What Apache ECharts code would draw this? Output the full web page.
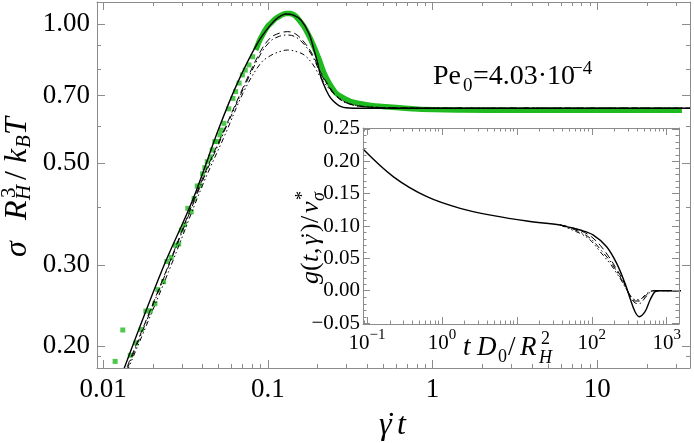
<!DOCTYPE html>
<html lang="en">
<head>
<meta charset="UTF-8">
<title>Stress overshoot, Pe0 = 4.03e-4</title>
<script src="https://cdn.jsdelivr.net/npm/echarts@6.0.0/dist/echarts.min.js"></script>
<style>
  html, body { margin: 0; padding: 0; background: #fff; }
  #main { width: 694px; height: 443px; }
</style>
</head>
<body>
<div id="main"></div>
<script type="text/javascript">
// ---- main plot: stress vs strain (log-log) ----
const solidX = [0.0133, 0.0228, 0.035, 0.0505, 0.0653, 0.0865, 0.104, 0.116, 0.129, 0.143, 0.159, 0.1776, 0.191, 0.201, 0.210, 0.226, 0.242, 0.279, 0.33, 0.4, 1, 10, 37];
const solidY = [0.177, 0.292, 0.415, 0.594, 0.744, 0.909, 0.997, 1.035, 1.053, 1.047, 1.022, 0.956, 0.879, 0.823, 0.769, 0.720, 0.690, 0.662, 0.657, 0.657, 0.657, 0.657, 0.657];

// the three broken curves share x samples
const brokenX = [0.014, 0.025, 0.04, 0.055, 0.0716, 0.0906, 0.104, 0.118, 0.132, 0.148, 0.166, 0.187, 0.21, 0.235, 0.26, 0.3, 0.4, 1, 37];
const dashedY = [0.180, 0.300, 0.460, 0.595, 0.735, 0.875, 0.935, 0.957, 0.964, 0.952, 0.915, 0.860, 0.785, 0.735, 0.700, 0.675, 0.661, 0.657, 0.657];
const dotDashY = [0.178, 0.298, 0.455, 0.590, 0.728, 0.862, 0.920, 0.942, 0.948, 0.938, 0.905, 0.852, 0.780, 0.730, 0.698, 0.674, 0.661, 0.657, 0.657];
const dotDotY = [0.176, 0.290, 0.445, 0.575, 0.715, 0.823, 0.855, 0.872, 0.879, 0.873, 0.858, 0.820, 0.765, 0.725, 0.700, 0.676, 0.662, 0.657, 0.657];

// simulation points (green): sparse squares at early strain, dense band afterwards
const greenX = [0.01184, 0.01318, 0.01463, 0.0158, 0.01706, 0.0182, 0.01937, 0.02066, 0.0215, 0.0233, 0.0244, 0.0259, 0.0275, 0.0288, 0.0299, 0.0312, 0.0327, 0.0343, 0.0357, 0.0373, 0.0387, 0.0402, 0.0415, 0.0429, 0.0449, 0.046, 0.0477, 0.0493, 0.0512, 0.0522, 0.0542, 0.058, 0.0615, 0.0638, 0.067, 0.0701, 0.073, 0.0769, 0.081];
const greenY = [0.185, 0.2165, 0.1907, 0.203, 0.217, 0.238, 0.2384, 0.247, 0.265, 0.2757, 0.305, 0.3114, 0.331, 0.333, 0.357, 0.3666, 0.398, 0.391, 0.418, 0.445, 0.446, 0.473, 0.488, 0.5027, 0.515, 0.533, 0.556, 0.556, 0.575, 0.589, 0.609, 0.655, 0.69, 0.714, 0.745, 0.776, 0.795, 0.816, 0.85];
const bandX = [0.0845, 0.0906, 0.0995, 0.106, 0.112, 0.12, 0.129, 0.137, 0.145, 0.152, 0.166, 0.187, 0.2056, 0.220, 0.2365, 0.260, 0.279, 0.321, 0.405, 0.512, 0.818, 1.5, 3, 6, 12, 20, 32.7];
const bandY = [0.879, 0.932, 0.988, 1.01, 1.03, 1.045, 1.056, 1.055, 1.047, 1.03, 0.988, 0.909, 0.836, 0.782, 0.744, 0.708, 0.696, 0.679, 0.668, 0.662, 0.654, 0.651, 0.650, 0.650, 0.650, 0.650, 0.650];

const mainXMajor = [0.01, 0.1, 1, 10];
const mainXLabels = ['0.01', '0.1', '1', '10'];
const mainXMinor = [0.02, 0.03, 0.04, 0.05, 0.06, 0.07, 0.08, 0.09, 0.2, 0.3, 0.4, 0.5, 0.6, 0.7, 0.8, 0.9, 2, 3, 4, 5, 6, 7, 8, 9, 20, 30];
const mainYMajor = [0.2, 0.3, 0.5, 0.7, 1.0];
const mainYMinor = [0.19, 0.4, 0.6, 0.8, 0.9];

// ---- inset: g(t, gamma dot) vs t ----
const insetX = [0.0885, 0.226, 0.631, 1.754, 4.88, 13.6, 37.8, 46.4, 69.9, 105, 158, 215, 278, 324, 378, 431, 514, 600, 699, 815, 1700];
const insetY = [0.219, 0.176, 0.1453, 0.1273, 0.116, 0.1077, 0.1016, 0.099, 0.0938, 0.086, 0.068, 0.0423, 0.0114, -0.0118, -0.0325, -0.0402, -0.0325, -0.0144, -0.0015, 0, 0];
const insetBrokenX = [37.8, 60, 80, 100, 130, 175, 215, 251, 290, 330, 380, 430, 500, 580, 680, 1700];
const insetDashedY = [0.1016, 0.096, 0.090, 0.083, 0.070, 0.050, 0.033, 0.020, 0.004, -0.009, -0.016, -0.016, -0.010, -0.003, 0, 0];
const insetDotDashY = [0.1016, 0.094, 0.087, 0.079, 0.064, 0.046, 0.030, 0.017, 0.003, -0.010, -0.019, -0.020, -0.013, -0.004, 0, 0];
const insetDotDotY = [0.1016, 0.092, 0.085, 0.076, 0.060, 0.042, 0.027, 0.015, 0.002, -0.008, -0.014, -0.014, -0.008, -0.002, 0, 0];

const insetXMajor = [0.1, 1, 10, 100, 1000];
const insetXLabels = [0.1, 1, 100, 1000];   // 10^1 left out, the axis title sits there
const insetYMajor = [-0.05, 0, 0.05, 0.10, 0.15, 0.20, 0.25];
const insetXMinor = [0.09];
[0.1, 1, 10, 100].forEach(d => { for (let k = 2; k <= 9; k++) insetXMinor.push(+(d * k).toPrecision(3)); });
const insetYMinor = [];
for (let k = -5; k <= 25; k++) if (k % 5 !== 0) insetYMinor.push(k / 100);

const GREEN = '#1fba1f';
const GRAY = '#8c8c8c';
const SERIF = '"Liberation Serif", "Times New Roman", serif';

const pairs = (xs, ys) => xs.map((x, i) => [x, ys[i]]);

// main range and inset range (taken from the frame edges)
const M = { xmin: 0.00919, xmax: 36.6, ymin: 0.179, ymax: 1.118 };
const I = { xmin: 0.0885, xmax: 1460, ymin: -0.0515, ymax: 0.2515 };

function frameAxis(o) {
    return {
        type: o.type, logBase: 10, gridIndex: o.grid, position: o.position, offset: 0, z: 5,
        min: o.min, max: o.max,
        axisLine: { show: true, onZero: false, lineStyle: { color: GRAY, width: 1 } },
        axisTick: { show: true, inside: true, length: o.len, customValues: o.ticks, lineStyle: { color: GRAY, width: 1 } },
        axisLabel: o.label ? Object.assign({ show: true, color: '#000', fontFamily: SERIF }, o.label) : { show: false },
        splitLine: { show: false }
    };
}

const xAxes = [
    // main x labels are added as graphic text below, at the pixel the axis gives for each value
    frameAxis({ type: 'log', grid: 0, position: 'bottom', min: M.xmin, max: M.xmax, ticks: mainXMajor, len: 8 }),
    frameAxis({ type: 'log', grid: 0, position: 'top', min: M.xmin, max: M.xmax, ticks: mainXMajor, len: 8 }),
    frameAxis({ type: 'log', grid: 1, position: 'bottom', min: I.xmin, max: I.xmax, ticks: insetXMajor, len: 7,
        label: { customValues: insetXLabels, fontSize: 21, margin: 4,
            formatter: v => { const e = Math.round(Math.log10(v)); return '{b|10}{s|' + (e < 0 ? '\u2212' + (-e) : e) + '}'; },
            rich: {
                b: { fontSize: 21, fontFamily: SERIF, color: '#000', lineHeight: 26, verticalAlign: 'bottom' },
                s: { fontSize: 15, fontFamily: SERIF, color: '#000', lineHeight: 15, verticalAlign: 'top' }
            } } }),
    frameAxis({ type: 'log', grid: 1, position: 'top', min: I.xmin, max: I.xmax, ticks: insetXMajor, len: 7 })
];
const yAxes = [
    frameAxis({ type: 'log', grid: 0, position: 'left', min: M.ymin, max: M.ymax, ticks: mainYMajor, len: 8,
        label: { customValues: mainYMajor, fontSize: 27, margin: 7, formatter: v => v.toFixed(2) } }),
    frameAxis({ type: 'log', grid: 0, position: 'right', min: M.ymin, max: M.ymax, ticks: mainYMajor, len: 8 }),
    frameAxis({ type: 'value', grid: 1, position: 'left', min: I.ymin, max: I.ymax, ticks: insetYMajor, len: 7,
        label: { customValues: insetYMajor, fontSize: 21, margin: 3, formatter: v => v.toFixed(2).replace('-', '\u2212') } }),
    frameAxis({ type: 'value', grid: 1, position: 'right', min: I.ymin, max: I.ymax, ticks: insetYMajor, len: 7 })
];

// short minor ticks on both sides of a frame, placed through the axes' own scale
function minorTicks(values, dim, xi, yi, ref, len) {
    return {
        type: 'custom', xAxisIndex: xi, yAxisIndex: yi, silent: true, clip: false, z: 6,
        data: values.map(v => [v]),
        renderItem: (params, api) => {
            const cs = params.coordSys;
            const st = { stroke: GRAY, lineWidth: 1 };
            if (dim === 'x') {
                const px = Math.round(api.coord([api.value(0), ref])[0]) + 0.5;
                const b = cs.y + cs.height, t = cs.y;
                return { type: 'group', children: [
                    { type: 'line', shape: { x1: px, y1: b, x2: px, y2: b - len }, style: st },
                    { type: 'line', shape: { x1: px, y1: t, x2: px, y2: t + len }, style: st }
                ] };
            }
            const py = Math.round(api.coord([ref, api.value(0)])[1]) + 0.5;
            const l = cs.x, r = cs.x + cs.width;
            return { type: 'group', children: [
                { type: 'line', shape: { x1: l, y1: py, x2: l + len, y2: py }, style: st },
                { type: 'line', shape: { x1: r, y1: py, x2: r - len, y2: py }, style: st }
            ] };
        }
    };
}

function line(data, xi, yi, width, dash) {
    return { type: 'line', xAxisIndex: xi, yAxisIndex: yi, data: data, showSymbol: false, smooth: 0.35,
        silent: true, lineStyle: { color: '#000', width: width, type: dash || 'solid' }, z: 4 };
}

// small helper for the pieces of math labels: baseline at y
function piece(s, x, y, size, italic, align) {
    return { type: 'text', x: x, y: y - 0.33 * size, silent: true,
        style: { text: s, font: (italic ? 'italic ' : '') + size + 'px ' + SERIF, fill: '#000', align: align || 'left', verticalAlign: 'middle' } };
}

const graphics = [
    // y title of the main plot, read bottom to top
    { type: 'group', x: 28, y: 257, rotation: Math.PI / 2, children: [
        piece('σ', 0, 0, 32, true),
        piece('R', 37, 0, 32, true),
        piece('3', 59, -12, 21, false),
        piece('H', 57, 3, 21, true),
        piece('/', 77, 0, 32, false),
        piece('k', 94, 0, 32, true),
        piece('B', 109, 3, 21, true),
        piece('T', 122, 0, 32, true)
    ] },
    // x title
    piece('γ', 379, 436, 32, true),
    piece('˙', 386, 436, 32, false),
    piece('t', 397, 436, 32, true),
    // inset y title
    { type: 'group', x: 320, y: 284, rotation: Math.PI / 2, children: [
        piece('g', 0, 0, 26, true),
        piece('(', 13, 0, 26, false),
        piece('t', 22, 0, 26, true),
        piece(',', 30, 0, 26, false),
        piece('γ', 39, 0, 26, true),
        piece('˙', 44, 0, 26, false),
        piece(')', 52, 0, 26, false),
        piece('/', 61, 0, 26, false),
        piece('v', 71, 0, 26, true),
        piece('*', 84, -11, 18, false),
        piece('σ', 83, 5, 18, true)
    ] },
    // inset x title
    piece('t', 463, 357, 27, true),
    piece('D', 477, 357, 27, true),
    piece('0', 498, 363, 18, false),
    piece('/', 508, 357, 27, false),
    piece('R', 520, 357, 27, true),
    piece('2', 541, 345, 18, false),
    piece('H', 539, 364, 18, true),
    // Peclet number
    piece('Pe', 433, 86, 28, false),
    piece('0', 463, 92, 19, false),
    piece('=4.03·10', 473, 86, 28, false),
    piece('\u22124', 572, 75, 19, false)
];

const chart = echarts.init(document.getElementById('main'));
chart.setOption({
    animation: false,
    backgroundColor: '#fff',
    grid: [
        { left: 97, top: 2, width: 593, height: 366 },
        { left: 363, top: 128, width: 316, height: 196, show: true, backgroundColor: '#fff', borderWidth: 0, z: 3 }
    ],
    xAxis: xAxes,
    yAxis: yAxes,
    series: [
        { type: 'line', xAxisIndex: 0, yAxisIndex: 0, data: pairs(bandX, bandY), showSymbol: false, smooth: 0.3, silent: true,
          lineStyle: { color: GREEN, width: 5.5 }, z: 2 },
        { type: 'scatter', xAxisIndex: 0, yAxisIndex: 0, data: pairs(greenX, greenY), symbol: 'rect', symbolSize: 5, silent: true,
          itemStyle: { color: GREEN }, z: 2 },
        line(pairs(brokenX, dotDotY), 0, 0, 1, [5, 3, 1.5, 2.5, 1.5, 3]),
        line(pairs(brokenX, dotDashY), 0, 0, 1, [6, 3, 1.5, 3]),
        line(pairs(brokenX, dashedY), 0, 0, 1, [7, 4]),
        line(pairs(solidX, solidY), 0, 0, 1.4),
        line(pairs(insetBrokenX, insetDotDotY), 2, 2, 1, [5, 3, 1.5, 2.5, 1.5, 3]),
        line(pairs(insetBrokenX, insetDotDashY), 2, 2, 1, [6, 3, 1.5, 3]),
        line(pairs(insetBrokenX, insetDashedY), 2, 2, 1, [7, 4]),
        line(pairs(insetX, insetY), 2, 2, 1.4),
        minorTicks(mainXMinor, 'x', 0, 0, M.ymin, 4),
        minorTicks(mainYMinor, 'y', 0, 0, M.xmin, 4),
        minorTicks(insetXMinor, 'x', 2, 2, I.ymin, 3.5),
        minorTicks(insetYMinor, 'y', 2, 2, I.xmin, 3.5)
    ]
});

// main x tick labels: pixel x from the axis, baseline just under the frame
const frameBottom = chart.convertToPixel({ yAxisIndex: 0 }, M.ymin);
mainXMajor.forEach((v, i) => {
    const px = chart.convertToPixel({ xAxisIndex: 0 }, v);
    graphics.push(piece(mainXLabels[i], px, frameBottom + 31, 27, false, 'center'));
});
chart.setOption({ graphic: graphics });
</script>
</body>
</html>
